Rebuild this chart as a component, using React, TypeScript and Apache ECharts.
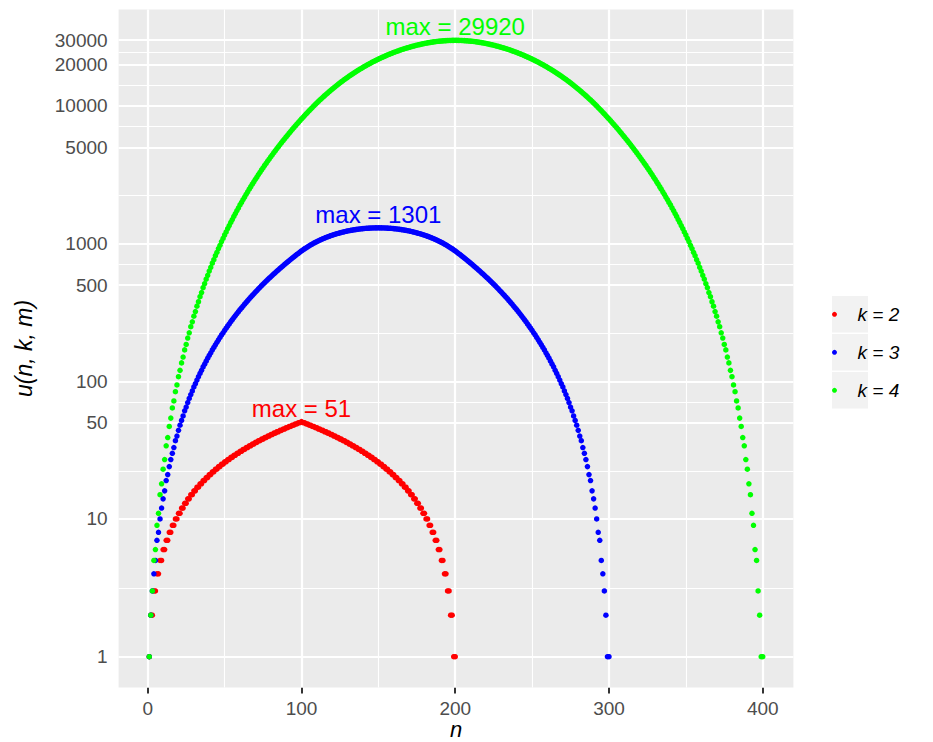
import React, { useEffect, useRef } from "react";
import * as echarts from "echarts";

// u(n,k,m) for m = 100, n = 1 .. k*m
const u2 = [
  1, 2, 2, 3, 3, 4, 4, 5, 5, 6, 6, 7, 7, 8, 8, 9, 9, 10, 10, 11,
  11, 12, 12, 13, 13, 14, 14, 15, 15, 16, 16, 17, 17, 18, 18, 19, 19, 20, 20, 21,
  21, 22, 22, 23, 23, 24, 24, 25, 25, 26, 26, 27, 27, 28, 28, 29, 29, 30, 30, 31,
  31, 32, 32, 33, 33, 34, 34, 35, 35, 36, 36, 37, 37, 38, 38, 39, 39, 40, 40, 41,
  41, 42, 42, 43, 43, 44, 44, 45, 45, 46, 46, 47, 47, 48, 48, 49, 49, 50, 50, 51,
  50, 50, 49, 49, 48, 48, 47, 47, 46, 46, 45, 45, 44, 44, 43, 43, 42, 42, 41, 41,
  40, 40, 39, 39, 38, 38, 37, 37, 36, 36, 35, 35, 34, 34, 33, 33, 32, 32, 31, 31,
  30, 30, 29, 29, 28, 28, 27, 27, 26, 26, 25, 25, 24, 24, 23, 23, 22, 22, 21, 21,
  20, 20, 19, 19, 18, 18, 17, 17, 16, 16, 15, 15, 14, 14, 13, 13, 12, 12, 11, 11,
  10, 10, 9, 9, 8, 8, 7, 7, 6, 6, 5, 5, 4, 4, 3, 3, 2, 2, 1, 1,
];

const u3 = [
  1, 2, 3, 4, 5, 7, 8, 10, 12,
  14, 16, 19, 21, 24, 27, 30, 33, 37, 40,
  44, 48, 52, 56, 61, 65, 70, 75, 80, 85,
  91, 96, 102, 108, 114, 120, 127, 133, 140, 147,
  154, 161, 169, 176, 184, 192, 200, 208, 217, 225,
  234, 243, 252, 261, 271, 280, 290, 300, 310, 320,
  331, 341, 352, 363, 374, 385, 397, 408, 420, 432,
  444, 456, 469, 481, 494, 507, 520, 533, 547, 560,
  574, 588, 602, 616, 631, 645, 660, 675, 690, 705,
  721, 736, 752, 768, 784, 800, 817, 833, 850, 867,
  884, 900, 917, 932, 948, 963, 978, 992, 1007, 1020,
  1034, 1047, 1060, 1072, 1085, 1096, 1108, 1119, 1130, 1140,
  1151, 1160, 1170, 1179, 1188, 1196, 1205, 1212, 1220, 1227,
  1234, 1240, 1247, 1252, 1258, 1263, 1268, 1272, 1277, 1280,
  1284, 1287, 1290, 1292, 1295, 1296, 1298, 1299, 1300, 1300,
  1301,
  1300, 1300, 1299, 1298, 1296, 1295, 1292, 1290, 1287,
  1284, 1280, 1277, 1272, 1268, 1263, 1258, 1252, 1247, 1240,
  1234, 1227, 1220, 1212, 1205, 1196, 1188, 1179, 1170, 1160,
  1151, 1140, 1130, 1119, 1108, 1096, 1085, 1072, 1060, 1047,
  1034, 1020, 1007, 992, 978, 963, 948, 932, 917, 900,
  884, 867, 850, 833, 817, 800, 784, 768, 752, 736,
  721, 705, 690, 675, 660, 645, 631, 616, 602, 588,
  574, 560, 547, 533, 520, 507, 494, 481, 469, 456,
  444, 432, 420, 408, 397, 385, 374, 363, 352, 341,
  331, 320, 310, 300, 290, 280, 271, 261, 252, 243,
  234, 225, 217, 208, 200, 192, 184, 176, 169, 161,
  154, 147, 140, 133, 127, 120, 114, 108, 102, 96,
  91, 85, 80, 75, 70, 65, 61, 56, 52, 48,
  44, 40, 37, 33, 30, 27, 24, 21, 19, 16,
  14, 12, 10, 8, 7, 5, 4, 3, 2, 1,
  1,
];

const u4 = [
  1, 2, 3, 5, 6, 9, 11, 15, 18,
  23, 27, 34, 39, 47, 54, 64, 72, 84, 94,
  108, 120, 136, 150, 169, 185, 206, 225, 249, 270,
  297, 321, 351, 378, 411, 441, 478, 511, 551, 588,
  632, 672, 720, 764, 816, 864, 920, 972, 1033, 1089,
  1154, 1215, 1285, 1350, 1425, 1495, 1575, 1650, 1735, 1815,
  1906, 1991, 2087, 2178, 2280, 2376, 2484, 2586, 2700, 2808,
  2928, 3042, 3169, 3289, 3422, 3549, 3689, 3822, 3969, 4109,
  4263, 4410, 4571, 4725, 4894, 5055, 5231, 5400, 5584, 5760,
  5952, 6136, 6336, 6528, 6736, 6936, 7153, 7361, 7586, 7803,
  8037, 8261, 8503, 8735, 8984, 9223, 9479, 9724, 9987, 10238,
  10506, 10763, 11037, 11298, 11577, 11843, 12126, 12396, 12683, 12956,
  13247, 13523, 13816, 14095, 14391, 14671, 14969, 15251, 15550, 15833,
  16133, 16416, 16717, 17000, 17300, 17583, 17883, 18164, 18463, 18743,
  19040, 19318, 19613, 19888, 20181, 20453, 20742, 21011, 21297, 21561,
  21843, 22103, 22380, 22635, 22907, 23156, 23423, 23666, 23926, 24163,
  24417, 24646, 24893, 25115, 25354, 25568, 25799, 26004, 26227, 26423,
  26636, 26823, 27027, 27203, 27397, 27563, 27746, 27901, 28073, 28216,
  28377, 28508, 28656, 28775, 28911, 29016, 29139, 29231, 29340, 29418,
  29513, 29576, 29657, 29705, 29770, 29803, 29853, 29869, 29903, 29903,
  29920,
  29903, 29903, 29869, 29853, 29803, 29770, 29705, 29657, 29576, 29513,
  29418, 29340, 29231, 29139, 29016, 28911, 28775, 28656, 28508, 28377,
  28216, 28073, 27901, 27746, 27563, 27397, 27203, 27027, 26823, 26636,
  26423, 26227, 26004, 25799, 25568, 25354, 25115, 24893, 24646, 24417,
  24163, 23926, 23666, 23423, 23156, 22907, 22635, 22380, 22103, 21843,
  21561, 21297, 21011, 20742, 20453, 20181, 19888, 19613, 19318, 19040,
  18743, 18463, 18164, 17883, 17583, 17300, 17000, 16717, 16416, 16133,
  15833, 15550, 15251, 14969, 14671, 14391, 14095, 13816, 13523, 13247,
  12956, 12683, 12396, 12126, 11843, 11577, 11298, 11037, 10763, 10506,
  10238, 9987, 9724, 9479, 9223, 8984, 8735, 8503, 8261, 8037,
  7803, 7586, 7361, 7153, 6936, 6736, 6528, 6336, 6136, 5952,
  5760, 5584, 5400, 5231, 5055, 4894, 4725, 4571, 4410, 4263,
  4109, 3969, 3822, 3689, 3549, 3422, 3289, 3169, 3042, 2928,
  2808, 2700, 2586, 2484, 2376, 2280, 2178, 2087, 1991, 1906,
  1815, 1735, 1650, 1575, 1495, 1425, 1350, 1285, 1215, 1154,
  1089, 1033, 972, 920, 864, 816, 764, 720, 672, 632,
  588, 551, 511, 478, 441, 411, 378, 351, 321, 297,
  270, 249, 225, 206, 185, 169, 150, 136, 120, 108,
  94, 84, 72, 64, 54, 47, 39, 34, 27, 23,
  18, 15, 11, 9, 6, 5, 3, 2, 1, 1,
];

const N_START = 1;
const seriesNames = ["k = 2", "k = 3", "k = 4"];
const seriesColors = ["#FF0000", "#0000FF", "#00FF00"];
const yBreaks = [1, 10, 50, 100, 500, 1000, 5000, 10000, 20000, 30000];
const xBreaks = [0, 100, 200, 300, 400];

const FONT = '"Liberation Sans", Arial, Helvetica, sans-serif';

export default function App() {
  const ref = useRef<HTMLDivElement>(null);

  useEffect(() => {
    const el = ref.current;
    if (!el) return;
    const chart = echarts.init(el, null, { renderer: "svg" });

    const all = [u2, u3, u4];
    const flat = all.flat();
    const nMin = N_START;
    const nMax = Math.max(...all.map((a) => a.length - 1 + N_START));
    const xPad = 0.05 * (nMax - nMin);
    const lMin = Math.log10(Math.min(...flat));
    const lMax = Math.log10(Math.max(...flat));
    const lPad = 0.05 * (lMax - lMin);

    const yMinor = yBreaks.slice(1).map((b, i) => Math.sqrt(b * yBreaks[i]));
    const xMinor = xBreaks.slice(1).map((b, i) => (b + xBreaks[i]) / 2);

    const gridLines = [
      ...yMinor.map((v) => ({ yAxis: v, lineStyle: { width: 1.1 } })),
      ...xMinor.map((v) => ({ xAxis: v, lineStyle: { width: 1.1 } })),
      ...yBreaks.map((v) => ({ yAxis: v, lineStyle: { width: 2.2 } })),
      ...xBreaks.map((v) => ({ xAxis: v, lineStyle: { width: 2.2 } })),
    ];

    const pointSeries = all.map((arr, si) => {
      const mx = Math.max(...arr);
      const peakN = arr.indexOf(mx) + N_START;
      return {
        name: seriesNames[si],
        type: "scatter",
        z: 3,
        symbol: "circle",
        symbolSize: 5.5,
        itemStyle: { color: seriesColors[si], opacity: 1 },
        data: arr.map((v, i) => [i + N_START, v]),
        progressive: 0,
        markPoint: {
          z: 6,
          symbol: "circle",
          symbolSize: 0,
          silent: true,
          itemStyle: { color: "transparent" },
          label: {
            show: true,
            position: "inside",
            formatter: `max = ${mx}`,
            color: seriesColors[si],
            fontSize: 24,
            fontFamily: FONT,
            textBorderWidth: 0,
          },
          data: [{ coord: [peakN, mx * 1.25] }],
        },
      };
    });

    const option: any = {
      animation: false,
      backgroundColor: "#FFFFFF",
      grid: {
        left: 118.6,
        top: 9.5,
        width: 674.8,
        height: 678,
        show: true,
        backgroundColor: "#EBEBEB",
        borderWidth: 0,
        containLabel: false,
        outerBoundsMode: "none",
      },
      legend: {
        data: seriesNames,
        orient: "vertical",
        left: 832,
        top: 295.3,
        padding: 0,
        itemGap: 0,
        itemWidth: 36,
        itemHeight: 5,
        icon: "circle",
        selectedMode: false,
        textStyle: {
          fontSize: 19,
          fontStyle: "italic",
          color: "#000000",
          fontFamily: FONT,
          lineHeight: 38,
        },
      },
      graphic: [0, 1, 2].map((i) => ({
        type: "rect",
        z: -1,
        silent: true,
        shape: { x: 832, y: 296 + i * 38, width: 36, height: 36.5 },
        style: { fill: "#F2F2F2" },
      })),
      xAxis: {
        type: "value",
        min: nMin - xPad,
        max: nMax + xPad,
        axisLine: { show: false },
        axisTick: {
          show: true,
          length: 6,
          lineStyle: { color: "#333333", width: 2 },
          customValues: xBreaks,
        },
        axisLabel: {
          customValues: xBreaks,
          formatter: (v: number) => String(v),
          color: "#4D4D4D",
          fontSize: 19,
          fontFamily: FONT,
          margin: 11,
        },
        splitLine: { show: false },
        name: "n",
        nameLocation: "middle",
        nameMoveOverlap: false,
        nameGap: 31,
        nameTextStyle: {
          fontSize: 22,
          lineHeight: 22,
          fontStyle: "italic",
          color: "#000000",
          fontFamily: FONT,
        },
      },
      yAxis: {
        type: "log",
        logBase: 10,
        min: Math.pow(10, lMin - lPad),
        max: Math.pow(10, lMax + lPad),
        axisLine: { show: false },
        axisTick: {
          show: true,
          length: 6,
          lineStyle: { color: "#333333", width: 2 },
          customValues: yBreaks,
        },
        axisLabel: {
          customValues: yBreaks,
          formatter: (v: number) => String(Math.round(v)),
          color: "#4D4D4D",
          fontSize: 19,
          fontFamily: FONT,
          margin: 11,
        },
        splitLine: { show: false },
        minorSplitLine: { show: false },
        name: "u(n, k, m)",
        nameLocation: "middle",
        nameMoveOverlap: false,
        nameRotate: 90,
        nameGap: 83,
        nameTextStyle: {
          fontSize: 23,
          fontStyle: "italic",
          color: "#000000",
          fontFamily: FONT,
        },
      },
      series: [
        {
          name: "__grid",
          type: "scatter",
          data: [],
          z: 1,
          silent: true,
          markLine: {
            z: 1,
            silent: true,
            symbol: ["none", "none"],
            label: { show: false },
            lineStyle: { color: "#FFFFFF", type: "solid" },
            emphasis: { disabled: true },
            data: gridLines,
          },
        },
        ...pointSeries,
      ],
    };

    chart.setOption(option);
    return () => {
      chart.dispose();
    };
  }, []);

  return (
    <div
      ref={ref}
      style={{
        position: "absolute",
        left: 0,
        top: 0,
        width: 933,
        height: 742,
        background: "#FFFFFF",
      }}
    />
  );
}
